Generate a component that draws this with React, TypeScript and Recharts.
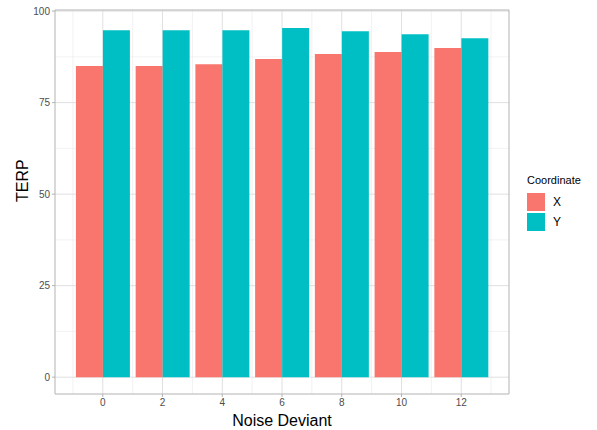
import React from "react";
import { ComposedChart, Bar, XAxis, YAxis, CartesianGrid, ReferenceArea } from "recharts";

const noise = [0, 2, 4, 6, 8, 10, 12];
const xValues = [85.0, 85.0, 85.5, 86.9, 88.3, 88.8, 89.9];
const yValues = [94.8, 94.8, 94.8, 95.4, 94.5, 93.7, 92.6];
const yTicks = [0, 25, 50, 75, 100];
const yMinor = [12.5, 37.5, 62.5, 87.5];
const xTicks = [0, 2, 4, 6, 8, 10, 12];
const xMinor = [-1, 1, 3, 5, 7, 9, 11, 13];

const data = noise.map((n, i) => ({ noise: n, X: xValues[i], Y: yValues[i] }));

const X_DOMAIN: [number, number] = [-1.6, 13.6];
const Y_DOMAIN: [number, number] = [-4.6, 100.3];
const FONT = "'Liberation Sans', Arial, sans-serif";

const legendItems: [string, string][] = [
  ["X", "#F8766D"],
  ["Y", "#00BFC4"],
];

const LegendBox = () => (
  <div style={{ position: "absolute", left: 527, top: 173, fontFamily: FONT, color: "#000" }}>
    <div style={{ fontSize: 11, lineHeight: "14px", height: 20 }}>Coordinate</div>
    {legendItems.map(([k, c]) => (
      <div key={k} style={{ display: "flex", alignItems: "center", height: 18, marginBottom: 2 }}>
        <div style={{ width: 18, height: 18, background: c }} />
        <span style={{ marginLeft: 8, fontSize: 12 }}>{k}</span>
      </div>
    ))}
  </div>
);

export default function App() {
  return (
    <div style={{ position: "fixed", left: 0, top: 0, width: 597, height: 430, background: "#fff" }}>
      <ComposedChart
        width={597}
        height={430}
        data={data}
        margin={{ top: 10, right: 88, bottom: 0, left: 0 }}
        barGap={0}
      >
        <CartesianGrid
          horizontalValues={yMinor}
          verticalValues={xMinor}
          stroke="#ececec"
          strokeWidth={0.7}
        />
        <CartesianGrid
          horizontalValues={yTicks}
          verticalValues={xTicks}
          stroke="#e0e0e0"
          strokeWidth={1}
        />
        <XAxis
          dataKey="noise"
          type="number"
          domain={X_DOMAIN}
          ticks={xTicks}
          allowDataOverflow
          height={36}
          axisLine={false}
          tickLine={{ stroke: "#b3b3b3" }}
          tickSize={3}
          tick={{ fill: "#4d4d4d", fontSize: 10, fontFamily: FONT }}
          label={{ value: "Noise Deviant", position: "insideBottom", offset: 4, fill: "#000", fontSize: 16, fontFamily: FONT }}
        />
        <YAxis
          type="number"
          domain={Y_DOMAIN}
          ticks={yTicks}
          allowDataOverflow
          width={55}
          axisLine={false}
          tickLine={{ stroke: "#b3b3b3" }}
          tickSize={3}
          tick={{ fill: "#4d4d4d", fontSize: 10, fontFamily: FONT }}
          label={{ value: "TERP", angle: -90, position: "insideLeft", offset: 22, fill: "#000", fontSize: 16, fontFamily: FONT }}
        />
        <Bar dataKey="X" fill="#F8766D" barSize={27} isAnimationActive={false} />
        <Bar dataKey="Y" fill="#00BFC4" barSize={27} isAnimationActive={false} />
        <ReferenceArea
          x1={X_DOMAIN[0]}
          x2={X_DOMAIN[1]}
          y1={Y_DOMAIN[0]}
          y2={Y_DOMAIN[1]}
          fill="none"
          fillOpacity={0}
          stroke="#b3b3b3"
          strokeWidth={1}
        />
      </ComposedChart>
      <LegendBox />
    </div>
  );
}
